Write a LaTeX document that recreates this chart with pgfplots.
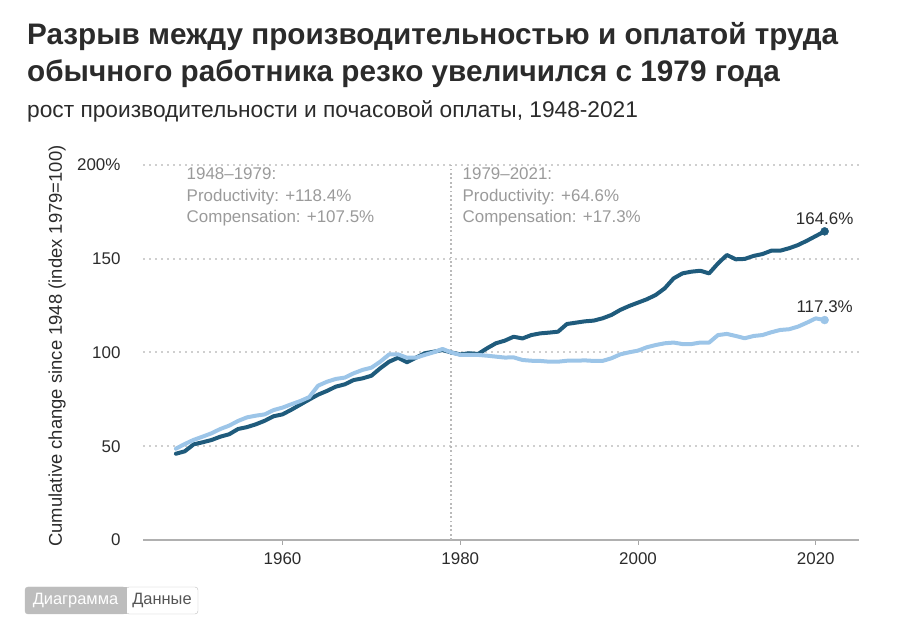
\documentclass[border=0pt]{standalone}
\usepackage{pgfplots}
\pgfplotsset{compat=1.18}
\usepackage{pgfplotstable}
\usepackage{fontspec}
\setmainfont{Liberation Sans}
\definecolor{dark}{HTML}{1F5B7C}
\definecolor{light}{HTML}{9CC5E8}
\definecolor{annot}{HTML}{9A9A9A}
\definecolor{gridc}{HTML}{CFCFCF}
\definecolor{txt}{HTML}{2B2B2B}
\definecolor{btn}{HTML}{BDBDBD}

\pgfplotstableread{
year prod comp
1948 46.0 48.7
1949 47.3 51.2
1950 51.0 53.4
1951 52.1 55.1
1952 53.3 56.9
1953 55.1 59.2
1954 56.4 61.0
1955 59.2 63.5
1956 60.2 65.4
1957 61.7 66.3
1958 63.6 67.0
1959 66.0 69.3
1960 67.0 70.6
1961 69.5 72.4
1962 72.2 74.1
1963 74.9 76.2
1964 77.5 82.3
1965 79.5 84.4
1966 81.8 85.9
1967 83.0 86.6
1968 85.3 88.9
1969 86.2 90.7
1970 87.6 91.9
1971 91.6 95.1
1972 95.1 99.0
1973 97.2 99.0
1974 94.8 97.2
1975 97.2 97.2
1976 99.6 98.7
1977 100.4 100.1
1978 101.3 101.9
1979 100.0 100.0
1980 99.0 98.7
1981 99.6 98.7
1982 99.2 98.7
1983 102.2 98.3
1984 104.9 97.8
1985 106.3 97.3
1986 108.4 97.4
1987 107.5 96.0
1988 109.3 95.6
1989 110.2 95.5
1990 110.6 95.1
1991 111.1 95.1
1992 115.2 95.6
1993 115.9 95.6
1994 116.6 95.8
1995 117.0 95.5
1996 118.2 95.5
1997 120.0 96.9
1998 122.7 99.0
1999 124.8 100.1
2000 126.6 101.0
2001 128.4 102.8
2002 130.7 104.0
2003 134.2 104.9
2004 139.5 105.3
2005 142.2 104.5
2006 143.1 104.5
2007 143.6 105.3
2008 142.2 105.3
2009 147.5 109.3
2010 152.0 109.9
2011 149.7 108.8
2012 149.9 107.6
2013 151.5 108.8
2014 152.5 109.3
2015 154.3 110.8
2016 154.3 112.0
2017 155.6 112.4
2018 157.3 113.8
2019 159.6 115.9
2020 162.1 118.2
2021 164.6 117.3
}\datatable

\begin{document}
\begin{tikzpicture}[x=1bp,y=1bp]
\useasboundingbox (0,0) rectangle (900,633);
% titles
\node[anchor=base west, inner sep=0, text=txt, font=\bfseries\fontsize{29.8}{29.8}\selectfont] at (27,633-45) {Разрыв между производительностью и оплатой труда};
\node[anchor=base west, inner sep=0, text=txt, font=\bfseries\fontsize{29.8}{29.8}\selectfont] at (27,633-82) {обычного работника резко увеличился с 1979 года};
\node[anchor=base west, inner sep=0, text=txt, font=\fontsize{22.8}{22.8}\selectfont] at (27,633-118) {рост производительности и почасовой оплаты, 1948-2021};
% y label
\node[rotate=90, inner sep=0, text=txt, font=\fontsize{18.5}{18.5}\selectfont] at (57,633-346) {Cumulative change since 1948 (index 1979=100)};
% buttons
\draw[btn, fill=btn, rounded corners=3bp] (25,633-614) rectangle (126,633-587);
\fill[btn] (115,633-614) rectangle (126,633-587);
\draw[btn, fill=white, rounded corners=3bp] (126,633-614) rectangle (198,633-587);
\draw[btn] (126,633-614) -- (126,633-587);
\node[text=white, font=\fontsize{16.5}{16.5}\selectfont] at (75.5,633-600.5) {Диаграмма};
\node[text=txt!80, font=\fontsize{16.5}{16.5}\selectfont] at (162,633-600.5) {Данные};

\begin{axis}[
  at={(143bp,93bp)}, anchor=south west,
  scale only axis, width=716.3bp, height=375bp,
  xmin=1944.3, xmax=2024.9, ymin=0, ymax=200,
  axis line style={draw=none},
  xtick={1960,1980,2000,2020},
  ytick={0,50,100,150,200},
  yticklabels={0,50,100,150,200\%},
  xticklabel style={/pgf/number format/1000 sep={}, font=\fontsize{17}{17}\selectfont, text=txt, yshift=-4bp},
  yticklabel style={font=\fontsize{17}{17}\selectfont, text=txt, xshift=-14bp},
  /pgf/number format/assume math mode=true,
  xtick pos=bottom, tick align=outside, major tick length=5bp,
  xtick style={draw=gridc!80!black, line width=1bp},
  ytick style={draw=none},
  ymajorgrids,
  grid style={draw=gridc, line width=2bp, dash pattern=on 2bp off 4bp},
  clip=false,
]
\draw[draw=gridc!85!black, line width=1.6bp] (axis cs:1944.3,0) -- (axis cs:2024.9,0);
\draw[draw=gridc!90!black, line width=1.8bp, dash pattern=on 1.8bp off 2.6bp] (axis cs:1979,0) -- (axis cs:1979,200);
\addplot[dark, line width=4bp, line join=round, line cap=round] table[x=year, y=prod] {\datatable};
\addplot[light, line width=4bp, line join=round, line cap=round] table[x=year, y=comp] {\datatable};
\addplot[dark, only marks, mark=*, mark size=4bp] coordinates {(2021,164.6)};
\addplot[light, only marks, mark=*, mark size=4bp] coordinates {(2021,117.3)};
\node[anchor=base, text=txt, font=\fontsize{17}{17}\selectfont] at (axis cs:2021,168.5) {164.6\%};
\node[anchor=base, text=txt, font=\fontsize{17}{17}\selectfont] at (axis cs:2021,121.5) {117.3\%};
\node[anchor=base west, inner sep=0, text=annot, font=\fontsize{17}{21.5}\selectfont, align=left] at (axis cs:1949.2,169.2) {1948–1979:\\Productivity: +118.4\%\\Compensation: +107.5\%};
\node[anchor=base west, inner sep=0, text=annot, font=\fontsize{17}{21.5}\selectfont, align=left] at (axis cs:1980.25,169.2) {1979–2021:\\Productivity: +64.6\%\\Compensation: +17.3\%};
\end{axis}
\end{tikzpicture}
\end{document}
